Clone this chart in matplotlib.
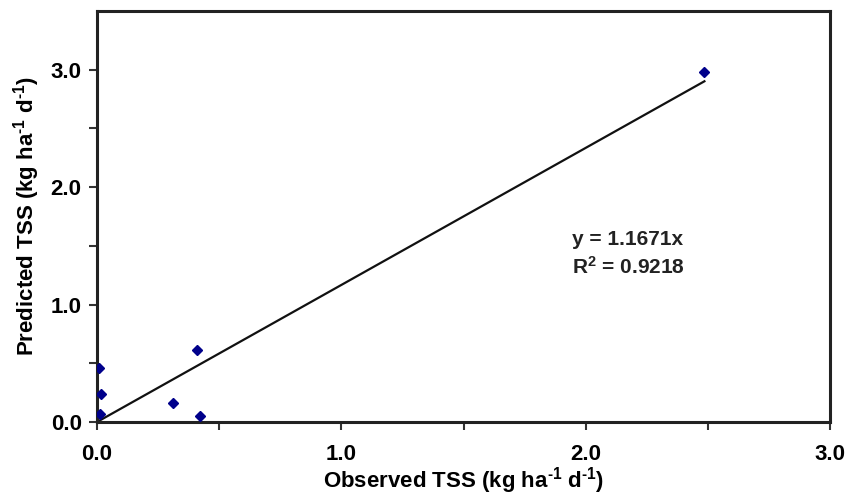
import matplotlib
matplotlib.use("Agg")
import matplotlib.pyplot as plt
import numpy as np

plt.rcParams['font.family'] = ['Liberation Sans', 'DejaVu Sans']
plt.rcParams['font.weight'] = 'bold'
plt.rcParams['mathtext.fontset'] = 'custom'
plt.rcParams['mathtext.rm'] = 'Liberation Sans:bold'
plt.rcParams['mathtext.bf'] = 'Liberation Sans:bold'
plt.rcParams['mathtext.default'] = 'rm'

# Data
observed = [0.01, 0.015, 0.012, 0.41, 0.31, 0.42, 2.486]
predicted = [0.46, 0.24, 0.065, 0.61, 0.16, 0.05, 2.98]
slope = 1.1671
r2 = 0.9218
major_ticks = [0.0, 1.0, 2.0, 3.0]
minor_ticks = [0.5, 1.5, 2.5]

fig = plt.figure(figsize=(8.58, 5.01), dpi=100)
ax = fig.add_axes([97/858, 1-422/501, (830-97)/858, (422-11)/501])

ax.plot(observed, predicted, linestyle='none', marker='D', markersize=5,
        color='#00008B', zorder=3)
xl = np.array([0.0, max(observed)])
ax.plot(xl, slope*xl, color='#111111', linewidth=1.6, zorder=2)

ax.set_xlim(0, 3.0)
ax.set_ylim(0, 3.5)
ax.set_xticks(major_ticks)
ax.set_xticks(minor_ticks, minor=True)
ax.set_yticks(major_ticks)
ax.set_yticks(minor_ticks, minor=True)
ax.set_xticklabels([f"{v:.1f}" for v in major_ticks])
ax.set_yticklabels([f"{v:.1f}" for v in major_ticks])
ax.tick_params(axis='both', which='both', direction='out', length=6,
               width=1.5, color='#333333')
ax.tick_params(axis='x', which='major', pad=10, labelsize=16)
ax.tick_params(axis='y', which='major', pad=5, labelsize=16)
for s in ax.spines.values():
    s.set_linewidth(2.2)
    s.set_color('#222222')

ax.set_xlabel(r'Observed TSS (kg ha$^{\text{-1}}$ d$^{\text{-1}}$)', fontsize=16,
              fontweight='bold', labelpad=0)
ax.set_ylabel(r'Predicted TSS (kg ha$^{\text{-1}}$ d$^{\text{-1}}$)', fontsize=16,
              fontweight='bold', labelpad=6)

ax.text(1.944, 1.55, f"y = {slope}x", fontsize=15, fontweight='bold',
        va='center', ha='left', color='#222222')
ax.text(1.944, 1.32, f"R$^{{2}}$ = {r2}", fontsize=15, fontweight='bold',
        va='center', ha='left', color='#222222')

fig.savefig("out.png", dpi=100)
